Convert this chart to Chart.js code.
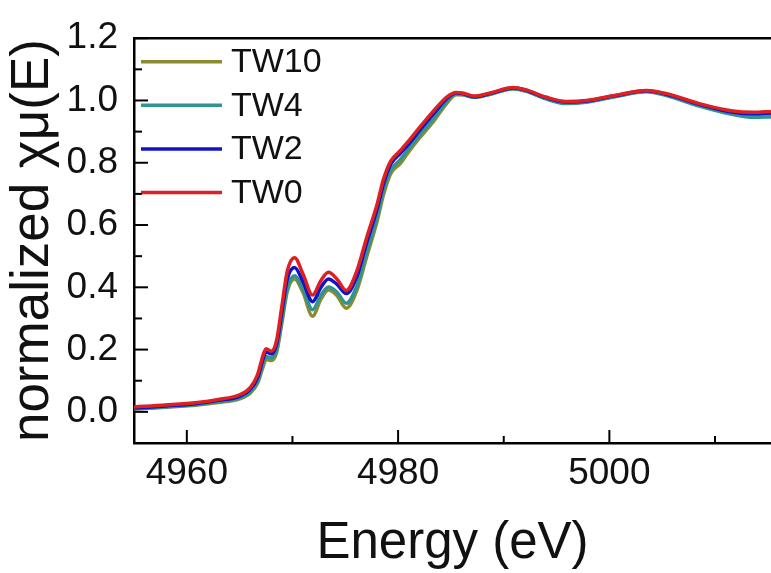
<!DOCTYPE html>
<html>
<head>
<meta charset="utf-8">
<script src="https://cdn.jsdelivr.net/npm/chart.js@4/dist/chart.umd.min.js"></script>
<style>
  html, body { margin: 0; padding: 0; background: #fff; }
  canvas { display: block; }
</style>
</head>
<body>
<canvas id="chart" width="771" height="573"></canvas>
<script>
// energy grid (eV)
const energy = [4955, 4958, 4961, 4963, 4965, 4966, 4966.7, 4967.2, 4967.5, 4968, 4968.5, 4969, 4969.5, 4970.2, 4971, 4971.9, 4972.7, 4973.4, 4974.2, 4975.1, 4976.1, 4977, 4978, 4978.6, 4979.3, 4980.2, 4981, 4982, 4983.3, 4984.6, 4985.5, 4986.1, 4987.2, 4988.7, 4990.9, 4992.1, 4994, 4995.9, 4997.8, 5000.5, 5003.5, 5005.4, 5008.5, 5011.7, 5013.6, 5015.3];

const tw10 = [0.009, 0.015, 0.022, 0.030, 0.042, 0.060, 0.092, 0.142, 0.168, 0.165, 0.190, 0.285, 0.385, 0.427, 0.383, 0.307, 0.362, 0.391, 0.374, 0.333, 0.390, 0.495, 0.610, 0.695, 0.765, 0.797, 0.835, 0.878, 0.930, 0.990, 1.018, 1.018, 1.010, 1.020, 1.038, 1.030, 1.006, 0.992, 0.996, 1.013, 1.030, 1.018, 0.985, 0.958, 0.950, 0.952];
const tw4 = [0.010, 0.016, 0.024, 0.033, 0.045, 0.064, 0.098, 0.152, 0.178, 0.174, 0.200, 0.295, 0.395, 0.437, 0.395, 0.328, 0.375, 0.401, 0.385, 0.349, 0.405, 0.510, 0.625, 0.710, 0.775, 0.810, 0.845, 0.888, 0.940, 0.997, 1.020, 1.019, 1.010, 1.020, 1.038, 1.030, 1.005, 0.990, 0.994, 1.012, 1.028, 1.016, 0.982, 0.955, 0.946, 0.947];
const tw2 = [0.012, 0.019, 0.027, 0.037, 0.050, 0.072, 0.110, 0.168, 0.192, 0.186, 0.218, 0.320, 0.425, 0.464, 0.418, 0.354, 0.400, 0.427, 0.410, 0.380, 0.435, 0.540, 0.650, 0.730, 0.795, 0.830, 0.860, 0.902, 0.955, 1.006, 1.024, 1.022, 1.012, 1.022, 1.040, 1.033, 1.009, 0.995, 0.998, 1.015, 1.031, 1.020, 0.988, 0.962, 0.957, 0.960];
const tw0 = [0.016, 0.022, 0.030, 0.040, 0.055, 0.078, 0.120, 0.180, 0.203, 0.195, 0.230, 0.340, 0.450, 0.495, 0.443, 0.375, 0.422, 0.448, 0.427, 0.390, 0.453, 0.557, 0.665, 0.745, 0.805, 0.839, 0.870, 0.912, 0.964, 1.011, 1.026, 1.024, 1.014, 1.024, 1.042, 1.034, 1.011, 0.997, 1.000, 1.016, 1.032, 1.022, 0.990, 0.966, 0.962, 0.965];

const seriesNames = ['TW10', 'TW4', 'TW2', 'TW0'];
const seriesColors = ['#8c8c2e', '#2f9494', '#1212c8', '#e02020'];
const seriesValues = [tw10, tw4, tw2, tw0];

const xMajor = [4960, 4980, 5000];
const xMinor = [4970, 4990, 5010];
const yMajor = [0.0, 0.2, 0.4, 0.6, 0.8, 1.0, 1.2];
const yMinor = [0.1, 0.3, 0.5, 0.7, 0.9, 1.1];

const FONT = 'Liberation Sans, Arial, sans-serif';

// box on top + ticks pointing inward
const framePlugin = {
  id: 'frame',
  afterDraw(chart) {
    const { ctx, chartArea: a, scales: { x, y } } = chart;
    ctx.save();
    ctx.strokeStyle = '#000';
    ctx.lineWidth = 2.5;
    ctx.beginPath();
    ctx.moveTo(a.left, a.top);
    ctx.lineTo(a.right, a.top);
    ctx.stroke();
    ctx.lineWidth = 2;
    const tick = (vals, len) => {
      vals.forEach(v => {
        const px = x.getPixelForValue(v);
        ctx.beginPath();
        ctx.moveTo(px, a.bottom);
        ctx.lineTo(px, a.bottom - len);
        ctx.stroke();
      });
    };
    const ytick = (vals, len) => {
      vals.forEach(v => {
        const py = y.getPixelForValue(v);
        ctx.beginPath();
        ctx.moveTo(a.left, py);
        ctx.lineTo(a.left + len, py);
        ctx.stroke();
      });
    };
    tick(xMajor, 13);
    tick(xMinor, 7);
    ytick(yMajor, 14);
    ytick(yMinor, 8);
    ctx.restore();
  }
};

// legend inside the plot, top left
const legendPlugin = {
  id: 'insideLegend',
  afterDatasetsDraw(chart) {
    const { ctx, chartArea: a } = chart;
    ctx.save();
    ctx.font = '34px ' + FONT;
    ctx.textBaseline = 'middle';
    ctx.fillStyle = '#111';
    chart.data.datasets.forEach((ds, i) => {
      const yy = a.top + 23.5 + i * 43.6;
      ctx.strokeStyle = ds.borderColor;
      ctx.lineWidth = 3.5;
      ctx.beginPath();
      ctx.moveTo(a.left + 7, yy);
      ctx.lineTo(a.left + 88, yy);
      ctx.stroke();
      ctx.fillText(ds.label, a.left + 97, yy + 1);
    });
    ctx.restore();
  }
};

const datasets = seriesNames.map((name, i) => ({
  label: name,
  data: energy.map((e, k) => ({ x: e, y: seriesValues[i][k] })),
  borderColor: seriesColors[i],
  borderWidth: 3.5,
  pointRadius: 0,
  fill: false,
  cubicInterpolationMode: 'monotone',
  order: seriesNames.length - i  // TW0 drawn on top
}));

new Chart(document.getElementById('chart'), {
  type: 'line',
  data: { datasets },
  plugins: [framePlugin, legendPlugin],
  options: {
    responsive: false,
    animation: false,
    devicePixelRatio: 1,
    layout: { padding: { top: 31, right: 0, left: 0, bottom: 0 } },
    plugins: { legend: { display: false }, tooltip: { enabled: false } },
    scales: {
      x: {
        type: 'linear',
        min: 4955,
        max: 5015.3,
        afterBuildTicks: s => { s.ticks = xMajor.map(v => ({ value: v })); },
        afterFit: s => { s.height = 130; },
        grid: { drawOnChartArea: false, drawTicks: false },
        border: { display: true, color: '#000', width: 2.5 },
        ticks: {
          autoSkip: false,
          maxRotation: 0,
          padding: 9,
          color: '#111',
          font: { family: FONT, size: 37 },
          callback: v => String(v)
        },
        title: {
          display: true,
          text: 'Energy (eV)',
          color: '#111',
          font: { family: FONT, size: 51, lineHeight: 1 },
          padding: { top: 0, bottom: 4 }
        }
      },
      y: {
        min: -0.1,
        max: 1.2,
        afterBuildTicks: s => { s.ticks = yMajor.map(v => ({ value: v })); },
        afterFit: s => { s.width = 134; },
        grid: { drawOnChartArea: false, drawTicks: false },
        border: { display: true, color: '#000', width: 2.5 },
        ticks: {
          padding: 16,
          color: '#111',
          font: { family: FONT, size: 37 },
          callback: v => Number(v).toFixed(1)
        },
        title: {
          display: true,
          text: 'normalized χμ(E)',
          color: '#111',
          font: { family: FONT, size: 53, lineHeight: 1.1 },
          padding: { top: 4, bottom: 0 }
        }
      }
    }
  }
});
</script>
</body>
</html>
